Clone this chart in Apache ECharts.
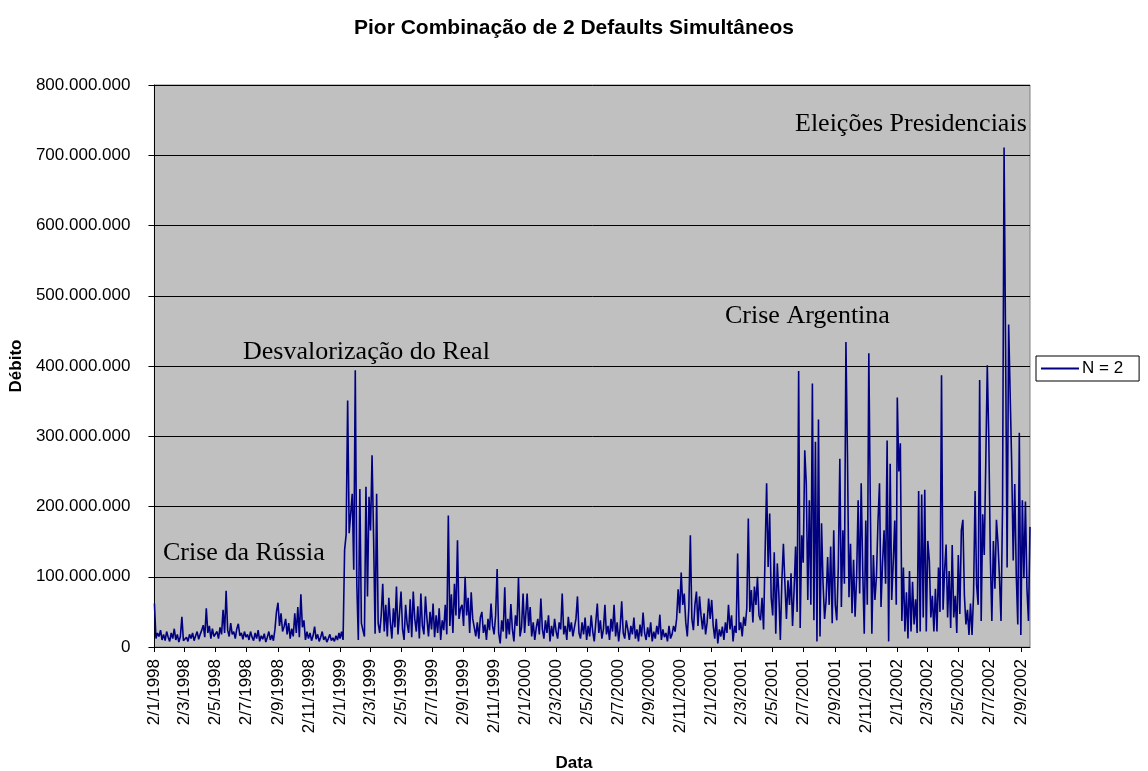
<!DOCTYPE html>
<html>
<head>
<meta charset="utf-8">
<script src="https://cdn.jsdelivr.net/npm/echarts@6/dist/echarts.min.js"></script>
<style>
  html, body { margin: 0; padding: 0; background: #ffffff; }
  #chart { width: 1148px; height: 771px; }
</style>
</head>
<body>
<div id="chart"></div>
<script>
// Débito (em milhões) da pior combinação de 2 defaults simultâneos.
// Cada ano: uma leitura a cada 3 dias, a partir de 2 de janeiro.
const SAMPLE_STEP_DAYS = 3;

const debito1998 = [
  62, 12, 20, 15, 24, 10, 18, 9, 22, 14, 8, 20, 12, 26, 10, 18, 7, 15, 43, 9,
  10, 14, 8, 18, 12, 20, 9, 16, 22, 11, 18, 24, 31, 14, 55, 20, 30, 12, 26, 15,
  14, 22, 12, 28, 18, 53, 20, 80, 24, 15, 34, 18, 22, 12, 26, 33, 16, 20, 11, 22, 14,
  18, 10, 22, 14, 9, 20, 12, 24, 8, 16, 11, 19, 7, 14, 22, 10, 17, 9, 25, 50,
  63, 30, 48, 22, 29, 40, 18, 34, 12, 26, 15, 48, 20, 57, 14, 75, 28, 38, 10, 22,
  12, 20, 9, 16, 29, 11, 18, 8, 14, 22, 10, 15, 7, 12, 18, 9, 13, 8, 16, 10, 20
];

const debito1999 = [
  12, 22, 10, 138, 160, 351, 162, 160, 218, 110, 394, 90, 10, 225, 34, 24, 15, 228, 72, 214,
  166, 273, 157, 19, 218, 34, 20,
  45, 90, 22, 60, 15, 70, 35, 12, 55, 28, 86, 18, 48, 79, 25, 10, 60, 33, 20, 68,
  14, 79, 40, 22, 58, 12, 76, 30, 18, 72, 40, 15, 50,
  25, 62, 14, 45, 20, 55, 10, 38, 24, 60, 18,
  187, 30, 75, 20, 90, 45, 152, 40, 55, 60, 30, 100, 45, 70, 20, 78,
  40, 28, 15, 35, 12, 42, 50, 20, 32, 10, 40, 24, 62, 30, 18, 45, 111, 20, 5, 38,
  22, 85, 12, 40, 18, 61, 25, 8, 45, 30, 99, 15, 28, 76, 20
];

const debito2000 = [
  20, 76, 30, 57, 15, 35, 10, 28, 40, 18, 69, 25, 12, 38, 20, 45, 8, 30, 15, 40,
  22, 12, 35, 25, 76, 18, 30, 10, 43, 22, 35, 15, 28, 40, 72, 20, 12, 35, 18, 42, 10,
  30, 15, 45, 22, 8, 35, 62, 20, 38, 12, 25, 60, 18, 30, 10, 40, 22, 60, 15, 35,
  8, 28, 65, 20, 12, 38, 25, 10, 30, 18, 42, 12, 25, 8, 32, 15, 49, 20, 10, 28,
  14, 35, 8, 22, 12, 30, 18, 46, 10, 25, 14, 20, 8, 30, 12, 18,
  30, 22, 40, 82, 48, 106, 60, 76, 35, 15, 55, 159, 40, 24, 60, 79, 30, 72, 45, 25,
  48, 18, 35, 69, 40
];

const debito2001 = [
  67, 30, 12, 40, 5, 25, 15, 29, 10, 35, 20, 60, 25, 45, 8, 30, 20, 133, 24, 35,
  15, 43, 30, 55, 183, 50, 81, 35, 86, 60, 100, 45, 38, 70, 25, 133, 233, 114, 190, 70,
  45, 135, 19, 119, 76, 10, 95, 147, 90, 40, 95, 60, 105, 30, 81, 143, 50, 393,
  27, 159, 120, 280, 233, 67, 209, 60, 375, 38, 292, 8, 324, 15, 176, 90, 40, 67, 128, 60, 143, 34,
  166, 60, 38, 114, 268, 57, 166, 90, 434, 273, 71, 147, 48, 124, 43, 100, 209, 76, 233, 110, 19, 180,
  60, 418, 200, 19, 131, 67, 100, 178, 233, 57, 120, 166, 90, 294, 8, 261, 67, 120, 180, 60
];

const debito2002 = [
  355, 250, 290, 37, 113, 22, 78, 12, 108, 22,
  93, 32, 68, 20, 222, 22, 217, 42, 224, 22,
  151, 123, 42, 73, 22, 83, 22, 113, 50, 387,
  53, 108, 146, 42, 108, 27, 145, 42, 73, 20,
  131, 47, 166, 181, 73, 32, 53, 17, 62, 17,
  75, 222, 88, 60, 380, 37, 189, 131, 262, 401,
  295, 128, 37, 151, 83, 181, 148, 98, 37, 200,
  711, 426, 113, 459, 460, 260, 123, 232, 103, 32,
  305, 17, 209, 98, 207, 83, 37, 171
];

const yearSeries = [
  { start: '1998-01-02', values: debito1998 },
  { start: '1999-01-02', values: debito1999 },
  { start: '2000-01-02', values: debito2000 },
  { start: '2001-01-02', values: debito2001 },
  { start: '2002-01-02', values: debito2002 }
];

const AXIS_START = '1998-01-02';
const AXIS_END = '2002-09-20';

const annotations = [
  { text: 'Crise da Rússia', x: 163, y: 553 },
  { text: 'Desvalorização do Real', x: 243, y: 352 },
  { text: 'Crise Argentina', x: 725, y: 316 },
  { text: 'Eleições Presidenciais', x: 795, y: 124 }
];

// ---- eixo de datas: um item de categoria por dia corrido ----
const DAY_MS = 86400000;
const toUTC = s => { const [y, m, d] = s.split('-').map(Number); return Date.UTC(y, m - 1, d); };
const axisStartMs = toUTC(AXIS_START);
const dayCount = Math.round((toUTC(AXIS_END) - axisStartMs) / DAY_MS) + 1;

const days = [];
for (let i = 0; i < dayCount; i++) {
  const dt = new Date(axisStartMs + i * DAY_MS);
  days.push(dt.getUTCDate() + '/' + (dt.getUTCMonth() + 1) + '/' + dt.getUTCFullYear());
}

const lineData = [];
yearSeries.forEach(ys => {
  const offset = Math.round((toUTC(ys.start) - axisStartMs) / DAY_MS);
  ys.values.forEach((v, i) => lineData.push([offset + i * SAMPLE_STEP_DAYS, v]));
});

// rótulos a cada dois meses, no dia 2 dos meses ímpares
const bimonthly = (idx, label) => {
  const parts = String(label).split('/');
  return parts[0] === '2' && Number(parts[1]) % 2 === 1;
};

const withDots = v => String(Math.round(v * 1e6)).replace(/\B(?=(\d{3})+(?!\d))/g, '.');

const FONT = "'Liberation Sans', Arial, sans-serif";

const chart = echarts.init(document.getElementById('chart'), null, { renderer: 'canvas' });

chart.setOption({
  animation: false,
  backgroundColor: '#ffffff',
  title: {
    text: 'Pior Combinação de 2 Defaults Simultâneos',
    left: 'center',
    top: 13,
    textStyle: { fontFamily: FONT, fontSize: 21, fontWeight: 'bold', color: '#000' }
  },
  legend: {
    data: ['N = 2'],
    left: 1036,
    top: 356,
    orient: 'vertical',
    padding: [4, 16, 4, 5],
    borderColor: '#000',
    borderWidth: 1,
    backgroundColor: '#ffffff',
    icon: 'rect',
    itemWidth: 38,
    itemHeight: 2,
    itemGap: 4,
    textStyle: { fontFamily: FONT, fontSize: 17, color: '#000', padding: [0, 0, 0, -2] }
  },
  grid: {
    left: 152,
    right: 118,
    top: 85,
    bottom: 124,
    show: true,
    backgroundColor: '#c0c0c0',
    borderColor: '#808080',
    borderWidth: 1
  },
  xAxis: {
    type: 'category',
    data: days,
    boundaryGap: false,
    axisLine: { show: true, lineStyle: { color: '#000', width: 1 } },
    axisTick: { show: true, interval: bimonthly, length: 5, lineStyle: { color: '#000' } },
    axisLabel: {
      interval: bimonthly,
      rotate: 90,
      margin: 12,
      fontFamily: FONT,
      fontSize: 17,
      color: '#000'
    },
    splitLine: { show: false }
  },
  yAxis: {
    type: 'value',
    min: 0,
    max: 800,
    interval: 100,
    name: 'Débito',
    nameLocation: 'middle',
    nameGap: 126,
    nameRotate: 90,
    nameTextStyle: { fontFamily: FONT, fontSize: 17, fontWeight: 'bold', color: '#000' },
    axisLine: { show: true, lineStyle: { color: '#000', width: 1 } },
    axisTick: { show: true, length: 6, lineStyle: { color: '#000' } },
    axisLabel: {
      margin: 24,
      fontFamily: FONT,
      fontSize: 17,
      color: '#000',
      formatter: withDots
    },
    splitLine: { show: true, lineStyle: { color: '#000', width: 1 } }
  },
  graphic: [
    {
      type: 'text',
      left: 'center',
      top: 755,
      style: { text: 'Data', font: "bold 17px 'Liberation Sans', Arial, sans-serif", fill: '#000' }
    },
    ...annotations.map(a => ({
      type: 'text',
      x: a.x,
      y: a.y,
      z: 10,
      style: {
        text: a.text,
        font: "26px 'Liberation Serif', 'Times New Roman', serif",
        fill: '#000',
        verticalAlign: 'middle'
      }
    }))
  ],
  series: [
    {
      name: 'N = 2',
      type: 'line',
      data: lineData,
      showSymbol: false,
      symbol: 'none',
      sampling: 'none',
      color: '#000080',
      lineStyle: { color: '#000080', width: 1.6 },
      emphasis: { disabled: true }
    }
  ]
});
</script>
</body>
</html>
